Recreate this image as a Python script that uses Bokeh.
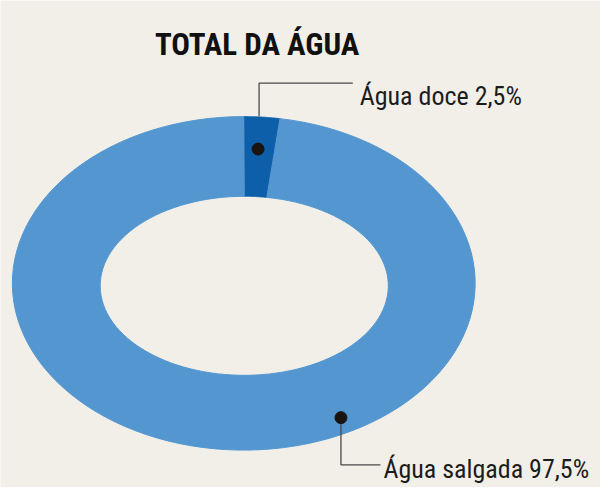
import math
from bokeh.plotting import figure
from bokeh.models import Range1d
from bokeh.core.properties import value
from bokeh.embed import file_html
from bokeh.resources import INLINE

title_text = "TOTAL DA ÁGUA"
categories = ["Água doce", "Água salgada"]
percents = [2.5, 97.5]
labels = ["Água doce 2,5%", "Água salgada 97,5%"]
colors = ["#0e5fa9", "#5497d0"]

W, H = 600, 487
p = figure(width=W, height=H, output_backend="svg", toolbar_location=None,
           x_range=Range1d(0, 608), y_range=Range1d(495, 0),
           min_border=0, outline_line_color=None)
p.axis.visible = False
p.grid.visible = False
p.background_fill_color = "#f2efe9"
p.border_fill_color = "#f2efe9"

# ellipse ring geometry (screen-like coords, y down)
cx, cy = 246.5, 287.5
rxo, ryo = 234.5, 169.5
cxi, cyi = 247.0, 290.0
rxi, ryi = 146.0, 91.0

def ring_patch(a0, a1, n=120):
    xs, ys = [], []
    for k in range(n + 1):
        t = math.radians(a0 + (a1 - a0) * k / n)
        xs.append(cx + rxo * math.cos(t)); ys.append(cy - ryo * math.sin(t))
    for k in range(n, -1, -1):
        t = math.radians(a0 + (a1 - a0) * k / n)
        xs.append(cxi + rxi * math.cos(t)); ys.append(cyi - ryi * math.sin(t))
    return xs, ys

start = 90.0
pxs, pys = [], []
for pct in percents:
    end = start - pct * 3.6
    xs, ys = ring_patch(start, end)
    pxs.append(xs); pys.append(ys)
    start = end
p.patches(pxs, pys, fill_color=colors, line_color=colors, line_width=1)

# leader lines and dots
dots_x = [261, 345]
dots_y = [151, 424]
p.line([262, 262, 357], [118, 84, 84], line_color="#4a4a4a", line_width=1.3)
p.line([345, 345, 385], [430, 472, 472], line_color="#4a4a4a", line_width=1.3)
p.scatter(dots_x, dots_y, size=12, fill_color="#1a1410", line_color="#1a1410")

FONT = "Roboto Condensed, Open Sans Condensed, DejaVu Sans Condensed, sans-serif"
p.text([364, 388], [97, 476], text=labels, text_font=value(FONT),
       text_font_size="26px", text_color="#1c1c1c", text_baseline="alphabetic")
p.text([260], [45], text=[title_text], text_font=value(FONT),
       text_font_style="bold", text_font_size="31px", text_color="#111111",
       text_align="center", text_baseline="alphabetic")

open("out.html", "w").write(file_html(p, INLINE))
